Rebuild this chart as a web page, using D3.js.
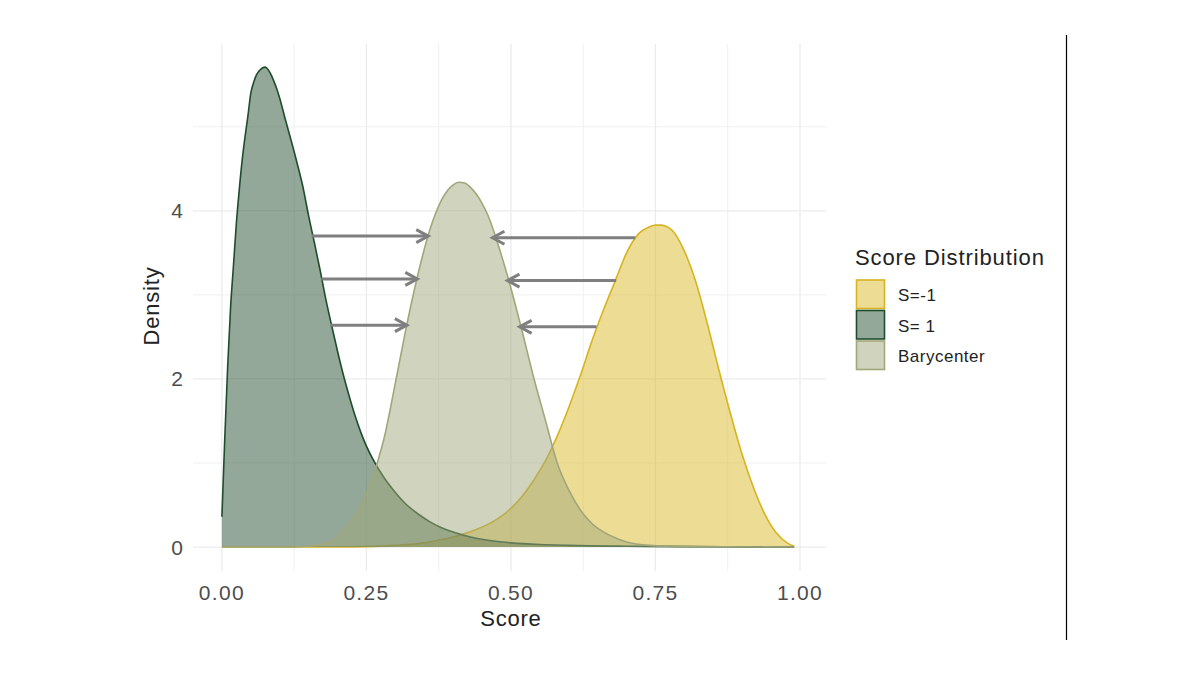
<!DOCTYPE html>
<html>
<head>
<meta charset="utf-8">
<script src="https://cdn.jsdelivr.net/npm/d3@7"></script>
<style>
  body { margin: 0; background: #fff; }
  svg { display: block; font-family: "Liberation Sans", Arial, sans-serif; }
</style>
</head>
<body>
<svg id="chart" width="1200" height="675"></svg>
<script>
const width = 1200,
  height = 675;

// density curves
const scoresNeg = [0, 0.20, 0.25, 0.30, 0.35, 0.38, 0.40, 0.42, 0.44, 0.46, 0.48, 0.50, 0.52, 0.54, 0.56, 0.58, 0.60, 0.62, 0.64, 0.66, 0.68, 0.70, 0.72, 0.74, 0.75, 0.76, 0.77, 0.78, 0.80, 0.82, 0.84, 0.86, 0.88, 0.90, 0.92, 0.94, 0.96, 0.98, 0.99];
const densityNeg = [0, 0, 0.005, 0.02, 0.05, 0.09, 0.12, 0.16, 0.21, 0.27, 0.35, 0.46, 0.61, 0.80, 1.03, 1.32, 1.66, 2.04, 2.45, 2.82, 3.16, 3.5, 3.72, 3.81, 3.83, 3.83, 3.81, 3.76, 3.52, 3.15, 2.65, 2.1, 1.58, 1.1, 0.7, 0.38, 0.16, 0.04, 0.01];

const scoresPos = [0, 0.005, 0.01, 0.015, 0.02, 0.025, 0.03, 0.035, 0.04, 0.045, 0.05, 0.055, 0.06, 0.065, 0.07, 0.075, 0.08, 0.085, 0.09, 0.095, 0.10, 0.11, 0.12, 0.13, 0.14, 0.15, 0.16, 0.17, 0.18, 0.19, 0.20, 0.21, 0.22, 0.23, 0.24, 0.25, 0.26, 0.28, 0.30, 0.32, 0.34, 0.36, 0.38, 0.40, 0.43, 0.46, 0.50, 0.55, 0.60, 0.70, 0.80, 0.99];
const densityPos = [0.36, 1.3, 2.15, 2.85, 3.35, 3.85, 4.25, 4.6, 4.88, 5.13, 5.4, 5.53, 5.62, 5.67, 5.70, 5.71, 5.68, 5.62, 5.54, 5.45, 5.34, 5.08, 4.83, 4.57, 4.29, 3.94, 3.62, 3.29, 2.94, 2.63, 2.33, 2.05, 1.80, 1.57, 1.37, 1.20, 1.06, 0.83, 0.65, 0.50, 0.39, 0.30, 0.23, 0.18, 0.12, 0.08, 0.05, 0.03, 0.02, 0.01, 0.005, 0];

const scoresBary = [0, 0.10, 0.15, 0.18, 0.20, 0.21, 0.22, 0.24, 0.26, 0.27, 0.28, 0.30, 0.32, 0.34, 0.36, 0.38, 0.40, 0.41, 0.42, 0.43, 0.44, 0.45, 0.46, 0.48, 0.50, 0.52, 0.54, 0.56, 0.58, 0.60, 0.62, 0.64, 0.66, 0.68, 0.70, 0.74, 0.80, 0.99];
const densityBary = [0, 0, 0.01, 0.05, 0.12, 0.2, 0.28, 0.48, 0.82, 1.03, 1.28, 1.95, 2.65, 3.27, 3.78, 4.13, 4.31, 4.34, 4.33, 4.28, 4.2, 4.09, 3.95, 3.55, 3.08, 2.55, 2.0, 1.5, 1.0, 0.68, 0.44, 0.28, 0.18, 0.11, 0.06, 0.02, 0.005, 0];

const seriesNames = ["S=-1", "S= 1", "Barycenter"];
const seriesColors = ["#d9b929", "#285234", "#a1a77b"];
const seriesStrokes = ["#d6b422", "#1f4d2c", "#a1a77b"];

// transport arrows: from a curve towards the barycenter
const arrowLevels = [3.70, 3.19, 2.64, 3.68, 3.17, 2.62];
const arrowFrom = [0.155, 0.172, 0.187, 0.715, 0.682, 0.648];
const arrowTo = [0.357, 0.338, 0.320, 0.468, 0.494, 0.515];

const xTicks = [0, 0.25, 0.5, 0.75, 1];
const xMinor = [0.125, 0.375, 0.625, 0.875];
const yTicks = [0, 2, 4];
const yMinor = [1, 3, 5];

const svg = d3.select("#chart");
svg.append("rect").attr("width", width).attr("height", height).attr("fill", "#fff");

const x = d3.scaleLinear().domain([-0.05, 1.045]).range([193, 826]);
const y = d3.scaleLinear().domain([-0.285, 5.985]).range([571, 44]);

const grid = svg.append("g");
grid.selectAll(".xminor").data(xMinor).enter().append("line")
  .attr("x1", d => x(d)).attr("x2", d => x(d))
  .attr("y1", y.range()[0]).attr("y2", y.range()[1])
  .attr("stroke", "#f0f0f0").attr("stroke-width", 1);
grid.selectAll(".yminor").data(yMinor).enter().append("line")
  .attr("y1", d => y(d)).attr("y2", d => y(d))
  .attr("x1", x.range()[0]).attr("x2", x.range()[1])
  .attr("stroke", "#f0f0f0").attr("stroke-width", 1);
grid.selectAll(".xmajor").data(xTicks).enter().append("line")
  .attr("x1", d => x(d)).attr("x2", d => x(d))
  .attr("y1", y.range()[0]).attr("y2", y.range()[1])
  .attr("stroke", "#ebebeb").attr("stroke-width", 1.3);
grid.selectAll(".ymajor").data(yTicks).enter().append("line")
  .attr("y1", d => y(d)).attr("y2", d => y(d))
  .attr("x1", x.range()[0]).attr("x2", x.range()[1])
  .attr("stroke", "#ebebeb").attr("stroke-width", 1.3);

const toPoints = (s, dens) => s.map((v, i) => ({ s: v, d: dens[i] }));
const series = [
  toPoints(scoresNeg, densityNeg),
  toPoints(scoresPos, densityPos),
  toPoints(scoresBary, densityBary)
];

const area = d3.area().curve(d3.curveMonotoneX)
  .x(p => x(p.s)).y0(y(0)).y1(p => y(p.d));
const line = d3.line().curve(d3.curveMonotoneX)
  .x(p => x(p.s)).y(p => y(p.d));

series.forEach((pts, i) => {
  svg.append("path").attr("d", area(pts))
    .attr("fill", seriesColors[i]).attr("fill-opacity", 0.5);
  svg.append("path").attr("d", line(pts))
    .attr("fill", "none").attr("stroke", seriesStrokes[i]).attr("stroke-width", 1.6);
});

// arrows
const arrows = arrowLevels.map((lv, i) => ({ lv, from: arrowFrom[i], to: arrowTo[i] }));
const ag = svg.append("g").attr("stroke", "#7f7f7f").attr("stroke-width", 3)
  .attr("fill", "none").attr("stroke-linecap", "butt");
arrows.forEach(a => {
  const x0 = x(a.from), x1 = x(a.to), yy = y(a.lv);
  const dir = x1 > x0 ? 1 : -1;
  ag.append("line").attr("x1", x0).attr("x2", x1 - dir * 1.5).attr("y1", yy).attr("y2", yy);
  ag.append("path")
    .attr("stroke-linejoin", "miter")
    .attr("d", `M${x1 - dir * 12},${yy - 6.5}L${x1},${yy}L${x1 - dir * 12},${yy + 6.5}`);
});

// axes text
const tickFont = 21;
svg.selectAll(".xlab").data(xTicks).enter().append("text")
  .attr("x", d => x(d)).attr("y", 600)
  .attr("text-anchor", "middle").attr("font-size", tickFont)
  .attr("letter-spacing", 1.3).attr("fill", "#4d4d4d")
  .text(d => d3.format(".2f")(d));
svg.selectAll(".ylab").data(yTicks).enter().append("text")
  .attr("x", 183).attr("y", d => y(d) + 7.5)
  .attr("text-anchor", "end").attr("font-size", tickFont).attr("fill", "#4d4d4d")
  .text(d => d);

svg.append("text").attr("x", x(0.5)).attr("y", 626)
  .attr("text-anchor", "middle").attr("font-size", 22).attr("letter-spacing", 0.8)
  .attr("fill", "#222").text("Score");
svg.append("text").attr("transform", "translate(159,306) rotate(-90)")
  .attr("text-anchor", "middle").attr("font-size", 22).attr("letter-spacing", 0.8)
  .attr("fill", "#222").text("Density");

// legend
const legend = svg.append("g").attr("transform", "translate(856,0)");
legend.append("text").attr("x", -1).attr("y", 265)
  .attr("font-size", 22).attr("letter-spacing", 0.9).attr("fill", "#222")
  .text("Score Distribution");
seriesNames.forEach((name, i) => {
  const top = 280 + i * 30.5;
  legend.append("rect").attr("x", 0.5).attr("y", top).attr("width", 28).attr("height", 28.5)
    .attr("fill", seriesColors[i]).attr("fill-opacity", 0.5)
    .attr("stroke", seriesStrokes[i]).attr("stroke-width", 1.6);
  legend.append("text").attr("x", 42).attr("y", top + 21)
    .attr("font-size", 17).attr("letter-spacing", 0.5).attr("fill", "#222")
    .text(name);
});

// right-hand divider
svg.append("line").attr("x1", 1066.5).attr("x2", 1066.5).attr("y1", 35).attr("y2", 640)
  .attr("stroke", "#000").attr("stroke-width", 1.2);
</script>
</body>
</html>
